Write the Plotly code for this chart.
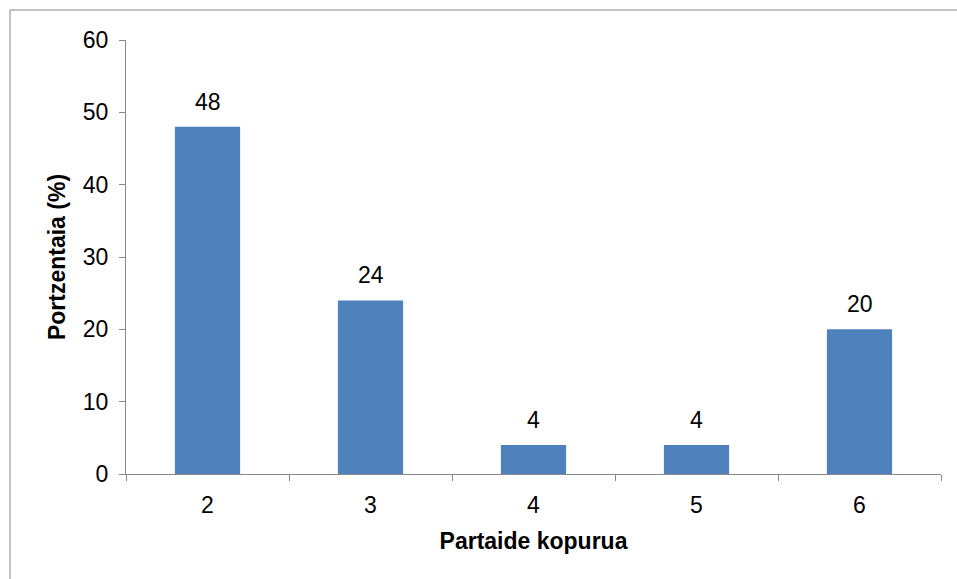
import plotly.graph_objects as go

categories = ["2", "3", "4", "5", "6"]
values = [48, 24, 4, 4, 20]
y_ticks = [0, 10, 20, 30, 40, 50, 60]

bar_color = "#4F81BD"
axis_color = "#888888"
font_family = "Liberation Sans, Arial, sans-serif"

fig = go.Figure()
fig.add_trace(go.Bar(
    x=categories, y=values, marker=dict(color=bar_color, line=dict(width=0)),
    width=0.4, hoverinfo="skip"
))

for i, v in enumerate(values):
    fig.add_annotation(x=i, y=v, text=str(v), showarrow=False, yanchor="bottom",
                       yshift=10, font=dict(size=23, color="#000000", family=font_family))

L, R, T, B = 126, 16, 40, 105
W, H = 957, 579
pw, ph = W - L - R, H - T - B
fig.add_shape(type="rect", xref="paper", yref="paper",
              x0=(10 - L) / pw, x1=(W + 5 - L) / pw,
              y0=-(H + 5 - T - ph) / ph, y1=(ph + T - 10) / ph,
              line=dict(color=axis_color, width=1), fillcolor="rgba(0,0,0,0)", layer="below")

fig.update_layout(
    width=W, height=H,
    margin=dict(l=L, r=R, t=T, b=B),
    paper_bgcolor="white", plot_bgcolor="white",
    font=dict(family=font_family, size=23, color="#000000"),
    showlegend=False,
    xaxis=dict(type="category", tickson="boundaries", ticks="outside", ticklen=6,
               tickcolor=axis_color, showline=True, linecolor=axis_color, linewidth=1,
               showgrid=False, zeroline=False, range=[-0.5, 4.5], ticklabelstandoff=10,
               title=dict(text="<b>Partaide kopurua</b>", font=dict(size=23), standoff=16)),
    yaxis=dict(range=[0, 60], tickvals=y_ticks, ticks="outside", ticklen=6,
               tickcolor=axis_color, showline=True, linecolor=axis_color, linewidth=1,
               showgrid=False, zeroline=False, ticklabelstandoff=6,
               title=dict(text="<b>Portzentaia (%)</b>", font=dict(size=23), standoff=10)),
)

fig.write_html("out.html")
